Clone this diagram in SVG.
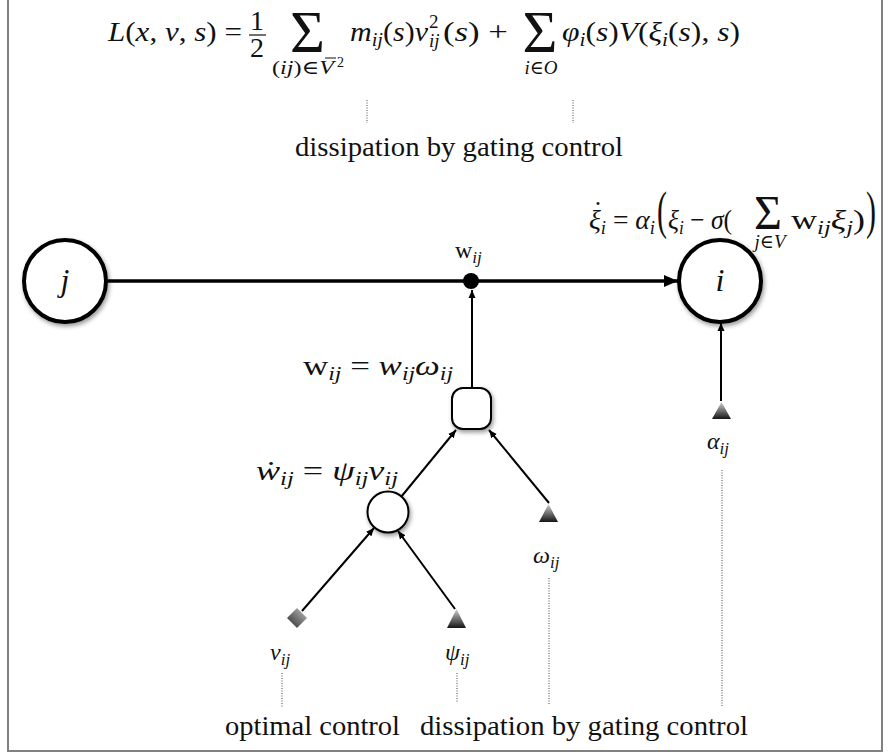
<svg xmlns="http://www.w3.org/2000/svg" width="890" height="753" viewBox="0 0 890 753">
<style>
.t{font-family:"Liberation Serif","DejaVu Serif",serif;font-size:28px;fill:#111}
.l{font-family:"Liberation Serif","DejaVu Serif",serif;font-size:24px;fill:#111}
.i{font-style:italic}
.s{font-size:19px}
.ss{font-size:17px}
.big{font-family:"Liberation Serif","DejaVu Serif",serif;fill:#111}
.node{fill:#fff;stroke:#000}
.edge{fill:none;stroke:#000;stroke-width:2}
.dot{fill:none;stroke:#444;stroke-width:1;stroke-dasharray:1 1.5}
.tri{fill:url(#grad);stroke:none}
</style>
<defs>
<linearGradient id="grad" x1="0" y1="0" x2="0" y2="1">
<stop offset="0" stop-color="#d0d0d0"/>
<stop offset="1" stop-color="#151515"/>
</linearGradient>
<linearGradient id="gradd" x1="1" y1="0" x2="0" y2="1">
<stop offset="0" stop-color="#c0c0c0"/>
<stop offset="1" stop-color="#2a2a2a"/>
</linearGradient>
<filter id="sh" x="-30%" y="-30%" width="160%" height="160%">
<feDropShadow dx="1.5" dy="2.5" stdDeviation="2" flood-color="#000" flood-opacity="0.4"/>
</filter>
<marker id="ab" viewBox="0 0 14 12" refX="14" refY="6" markerWidth="14" markerHeight="12" markerUnits="userSpaceOnUse" orient="auto">
<path d="M0,0 L14,6 L0,12 z" fill="#000"/>
</marker>
<marker id="as" viewBox="0 0 8 8" refX="8" refY="4" markerWidth="8" markerHeight="8" markerUnits="userSpaceOnUse" orient="auto">
<path d="M0,0.5 L8,4 L0,7.5 z" fill="#000"/>
</marker>
</defs>

<rect x="8" y="-2" width="874" height="753" fill="#fff" stroke="#808080" stroke-width="2"/>

<g id="formula-top">
<text class="t" x="108" y="41" textLength="134" lengthAdjust="spacingAndGlyphs"><tspan class="i">L</tspan>(<tspan class="i">x</tspan>, <tspan class="i">ν</tspan>, <tspan class="i">s</tspan>) =</text>
<text class="t" x="257" y="30" text-anchor="middle">1</text>
<line x1="249" y1="35" x2="266" y2="35" stroke="#111" stroke-width="1.2"/>
<text class="t" x="257" y="57" text-anchor="middle">2</text>
<text class="big" x="307.5" y="52" font-size="60" text-anchor="middle">Σ</text>
<text class="t s" x="272" y="74" textLength="62" lengthAdjust="spacingAndGlyphs">(<tspan class="i">ij</tspan>)∈<tspan class="i">V</tspan></text>
<line x1="325" y1="58" x2="336" y2="58" stroke="#111" stroke-width="1"/>
<text class="t" x="337" y="67" style="font-size:14px">2</text>
<text class="t" x="350" y="41" textLength="78" lengthAdjust="spacingAndGlyphs"><tspan class="i">m</tspan><tspan class="i s" dy="5">ij</tspan><tspan dy="-5">(</tspan><tspan class="i">s</tspan>)<tspan class="i">ν</tspan></text>
<text class="t s" x="429" y="28">2</text>
<text class="t s i" x="429" y="47">ij</text>
<text class="t" x="443" y="41" textLength="65" lengthAdjust="spacingAndGlyphs">(<tspan class="i">s</tspan>) +</text>
<text class="big" x="540" y="52" font-size="60" text-anchor="middle">Σ</text>
<text class="t s" x="541" y="74" text-anchor="middle"><tspan class="i">i</tspan>∈<tspan class="i">O</tspan></text>
<text class="t" x="562" y="41" textLength="178" lengthAdjust="spacingAndGlyphs"><tspan class="i">φ</tspan><tspan class="i s" dy="5">i</tspan><tspan dy="-5">(</tspan><tspan class="i">s</tspan>)<tspan class="i">V</tspan>(<tspan class="i">ξ</tspan><tspan class="i s" dy="5">i</tspan><tspan dy="-5">(</tspan><tspan class="i">s</tspan>), <tspan class="i">s</tspan>)</text>
<line class="dot" x1="367" y1="100" x2="367" y2="123"/>
<line class="dot" x1="573" y1="100" x2="573" y2="123"/>
<text class="t" x="295" y="156" textLength="328" lengthAdjust="spacingAndGlyphs">dissipation by gating control</text>
</g>

<g id="formula-right">
<text class="t" x="598" y="220" text-anchor="middle">˙</text>
<text class="t" x="589" y="229" textLength="66" lengthAdjust="spacingAndGlyphs"><tspan class="i">ξ</tspan><tspan class="i s" dy="5">i</tspan><tspan dy="-5"> = </tspan><tspan class="i">α</tspan><tspan class="i s" dy="5">i</tspan></text>
<text class="big" font-size="30" transform="translate(657,228) scale(1,1.75)">(</text>
<text class="t" x="668" y="229" textLength="64" lengthAdjust="spacingAndGlyphs"><tspan class="i">ξ</tspan><tspan class="i s" dy="5">i</tspan><tspan dy="-5"> − </tspan><tspan class="i">σ</tspan>(</text>
<text class="big" x="768" y="229" font-size="48" text-anchor="middle">Σ</text>
<text class="t s" x="770" y="248" text-anchor="middle"><tspan class="i">j</tspan>∈<tspan class="i">V</tspan></text>
<text class="t" x="791" y="229" textLength="74" lengthAdjust="spacingAndGlyphs">w<tspan class="i s" dy="5">ij</tspan><tspan class="i" dy="-5">ξ</tspan><tspan class="i s" dy="5">j</tspan><tspan dy="-5">)</tspan></text>
<text class="big" font-size="30" transform="translate(866,228) scale(1,1.75)">)</text>
</g>

<g id="connectors">
<line x1="108" y1="281" x2="678" y2="281" stroke="#000" stroke-width="3.5" marker-end="url(#ab)"/>
<line class="edge" x1="472" y1="388" x2="472" y2="290" marker-end="url(#as)"/>
<line class="edge" x1="401" y1="497" x2="456" y2="430" marker-end="url(#as)"/>
<line class="edge" x1="549" y1="503" x2="489" y2="430" marker-end="url(#as)"/>
<line class="edge" x1="302" y1="611" x2="374" y2="528" marker-end="url(#as)"/>
<line class="edge" x1="455" y1="609" x2="398" y2="531" marker-end="url(#as)"/>
<line class="edge" x1="721" y1="401" x2="721" y2="323" marker-end="url(#as)"/>
</g>

<g id="node-j">
<circle class="node" cx="65" cy="281" r="41" stroke-width="4" filter="url(#sh)"/>
<text class="t i" x="65" y="291" style="font-size:32px" text-anchor="middle">j</text>
</g>
<g id="node-i">
<circle class="node" cx="720" cy="281" r="41" stroke-width="4" filter="url(#sh)"/>
<text class="t i" x="720" y="291" style="font-size:32px" text-anchor="middle">i</text>
</g>
<g id="node-w">
<circle cx="471" cy="281" r="8" fill="#000"/>
<text class="l" x="455" y="258">w<tspan class="i ss" dy="5">ij</tspan></text>
</g>
<g id="node-gate">
<rect class="node" x="452" y="388" width="39" height="41" rx="11" stroke-width="2" filter="url(#sh)"/>
<text class="t" x="303" y="375" textLength="150" lengthAdjust="spacingAndGlyphs">w<tspan class="i s" dy="5">ij</tspan><tspan dy="-5"> = </tspan><tspan class="i">w</tspan><tspan class="i s" dy="5">ij</tspan><tspan class="i" dy="-5">ω</tspan><tspan class="i s" dy="5">ij</tspan></text>
</g>
<g id="node-mult">
<circle class="node" cx="388" cy="512" r="20.5" stroke-width="2" filter="url(#sh)"/>
<text class="t" x="256" y="480" textLength="142" lengthAdjust="spacingAndGlyphs"><tspan class="i">ẇ</tspan><tspan class="i s" dy="5">ij</tspan><tspan dy="-5"> = </tspan><tspan class="i">ψ</tspan><tspan class="i s" dy="5">ij</tspan><tspan class="i" dy="-5">ν</tspan><tspan class="i s" dy="5">ij</tspan></text>
</g>
<g id="node-omega">
<polygon class="tri" points="548.5,504 558,522 539,522"/>
<text class="l" x="533" y="563"><tspan class="i">ω</tspan><tspan class="i ss" dy="5">ij</tspan></text>
<line class="dot" x1="549" y1="578" x2="549" y2="705"/>
</g>
<g id="node-alpha">
<polygon class="tri" points="721.5,402 731,419 712,419"/>
<text class="l" x="707" y="449"><tspan class="i">α</tspan><tspan class="i ss" dy="5">ij</tspan></text>
<line class="dot" x1="722" y1="470" x2="722" y2="707"/>
</g>
<g id="node-nu">
<polygon points="297,608 307,618 297,628 287,618" fill="url(#gradd)"/>
<text class="l" x="270" y="660"><tspan class="i">ν</tspan><tspan class="i ss" dy="5">ij</tspan></text>
<line class="dot" x1="282" y1="673" x2="282" y2="707"/>
</g>
<g id="node-psi">
<polygon class="tri" points="456.5,609 466,628 447,628"/>
<text class="l" x="445" y="660"><tspan class="i">ψ</tspan><tspan class="i ss" dy="5">ij</tspan></text>
<line class="dot" x1="457" y1="673" x2="457" y2="703"/>
</g>

<g id="captions">
<text class="t" x="225" y="735" textLength="175" lengthAdjust="spacingAndGlyphs">optimal control</text>
<text class="t" x="420" y="735" textLength="328" lengthAdjust="spacingAndGlyphs">dissipation by gating control</text>
</g>
</svg>
